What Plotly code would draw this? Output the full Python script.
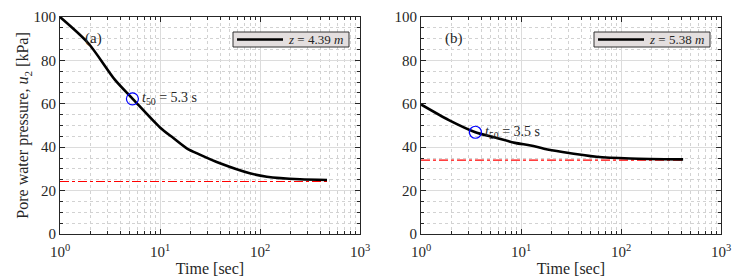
import math
import plotly.graph_objects as go

# ---- data ----
time_a = [1, 1.92, 3.55, 5.33, 10, 13.6, 18.5, 25, 39.8, 79, 117, 251, 468]
pressure_a = [100, 87.9, 71, 62.3, 49.1, 44.2, 39.5, 36.6, 32.6, 28.0, 26.4, 25.2, 24.9]
hydro_a = 24.2
t50_a = 5.3
u50_a = 62.3
depth_a = "4.39"

time_b = [1, 1.9, 3.5, 5.5, 8.7, 12.5, 17, 26, 57, 123, 418]
pressure_b = [59.7, 52.5, 46.9, 44.5, 42.0, 40.8, 39.3, 37.8, 35.6, 34.8, 34.4]
hydro_b = 34.0
t50_b = 3.5
u50_b = 46.9
depth_b = "5.38"

x_tickvals = [1, 10, 100, 1000]
x_ticktext = ["10<sup>0</sup>", "10<sup>1</sup>", "10<sup>2</sup>", "10<sup>3</sup>"]
y_tickvals = [0, 20, 40, 60, 80, 100]

W, H = 745, 280
OFF = 8  # page body margin offset
FONT = "Liberation Serif"
TXT = "#262626"
fig = go.Figure()


def px(v):
    return (v - OFF) / W


def py(v):
    return 1 - (v - OFF) / H


# geometry of the two panels and their legend boxes (screen pixels)
xdom_a = [px(60), px(360)]
xdom_b = [px(421), px(721)]
ydom = [py(234), py(17)]
legend_boxes = [(233, 349), (594, 710)]
LEG_Y0, LEG_Y1 = 32, 47

panels = [
    ("x", "y", time_a, pressure_a, hydro_a, t50_a, u50_a, depth_a, "(a)"),
    ("x2", "y2", time_b, pressure_b, hydro_b, t50_b, u50_b, depth_b, "(b)"),
]
for (xa, ya, t, u, h, t50, u50, d, lab), (lx0, lx1) in zip(panels, legend_boxes):
    fig.add_trace(go.Scatter(x=[t[0], t[-1]], y=[h, h], mode="lines", xaxis=xa, yaxis=ya,
                             line=dict(color="red", width=1.2, dash="dashdot"), showlegend=False))
    fig.add_trace(go.Scatter(x=t, y=u, mode="lines", xaxis=xa, yaxis=ya,
                             line=dict(color="black", width=2.6, shape="spline", smoothing=0.8),
                             name=f"z = {d} m", showlegend=False))
    fig.add_trace(go.Scatter(x=[t50], y=[u50], mode="markers", xaxis=xa, yaxis=ya,
                             marker=dict(symbol="circle-open", size=12, color="blue", line=dict(width=1.2)),
                             showlegend=False))
    fig.add_annotation(x=math.log10(t50), y=u50, xref=xa, yref=ya, xanchor="left", yanchor="middle",
                       xshift=8, showarrow=False,
                       text=f"<i>t</i><sub>50</sub> = {t50} s",
                       font=dict(family=FONT, size=14, color=TXT))
    fig.add_annotation(x=0.33, y=90, xref=xa, yref=ya, showarrow=False, text=lab,
                       font=dict(family=FONT, size=15, color=TXT))
    # legend box drawn by hand to match the compact MATLAB legend
    fig.add_shape(type="rect", xref="paper", yref="paper",
                  x0=px(lx0), x1=px(lx1), y0=py(LEG_Y1), y1=py(LEG_Y0),
                  fillcolor="#e4dfdf", line=dict(color="#333", width=1), layer="above")
    ym = py((LEG_Y0 + LEG_Y1) / 2)
    fig.add_shape(type="line", xref="paper", yref="paper",
                  x0=px(lx0 + 4), x1=px(lx0 + 50), y0=ym, y1=ym,
                  line=dict(color="black", width=2.6), layer="above")
    fig.add_annotation(x=px(lx1 - 4), y=ym, xref="paper", yref="paper", xanchor="right",
                       yanchor="middle", showarrow=False,
                       text=f"<i>z</i> = {d} <i>m</i>",
                       font=dict(family=FONT, size=13, color=TXT))

axis_common = dict(
    showline=True, linecolor=TXT, linewidth=1, mirror="allticks",
    ticks="inside", ticklen=5, tickcolor=TXT,
    showgrid=True, gridcolor="#dcdcdc", gridwidth=1,
    tickfont=dict(family=FONT, size=15, color=TXT),
    zeroline=False, automargin=False,
)

xaxis_common = dict(axis_common, type="log", range=[0, 3], tickvals=x_tickvals, ticktext=x_ticktext,
                    ticklabelstandoff=4,
                    minor=dict(ticks="inside", ticklen=3, tickcolor=TXT, dtick="D1",
                               showgrid=True, gridcolor="#d2d2d2", griddash="dot"),
                    title=dict(text="Time [sec]", font=dict(family=FONT, size=16, color=TXT), standoff=3))
yaxis_common = dict(axis_common, range=[0, 100], tickvals=y_tickvals,
                    minor=dict(ticks="inside", ticklen=3, tickcolor=TXT, dtick=5,
                               showgrid=True, gridcolor="#d2d2d2", griddash="dot"))

fig.update_layout(
    width=W, height=H,
    margin=dict(l=0, r=0, t=0, b=0, autoexpand=False),
    paper_bgcolor="white", plot_bgcolor="white",
    font=dict(family=FONT, size=15, color=TXT),
    showlegend=False,
    xaxis=dict(xaxis_common, domain=xdom_a, anchor="y"),
    yaxis=dict(yaxis_common, domain=ydom, anchor="x",
               title=dict(text="Pore water pressure, <i>u</i><sub>2</sub> [kPa]",
                          font=dict(family=FONT, size=16, color=TXT), standoff=0)),
    xaxis2=dict(xaxis_common, domain=xdom_b, anchor="y2"),
    yaxis2=dict(yaxis_common, domain=ydom, anchor="x2"),
)

fig.write_html("out.html")
